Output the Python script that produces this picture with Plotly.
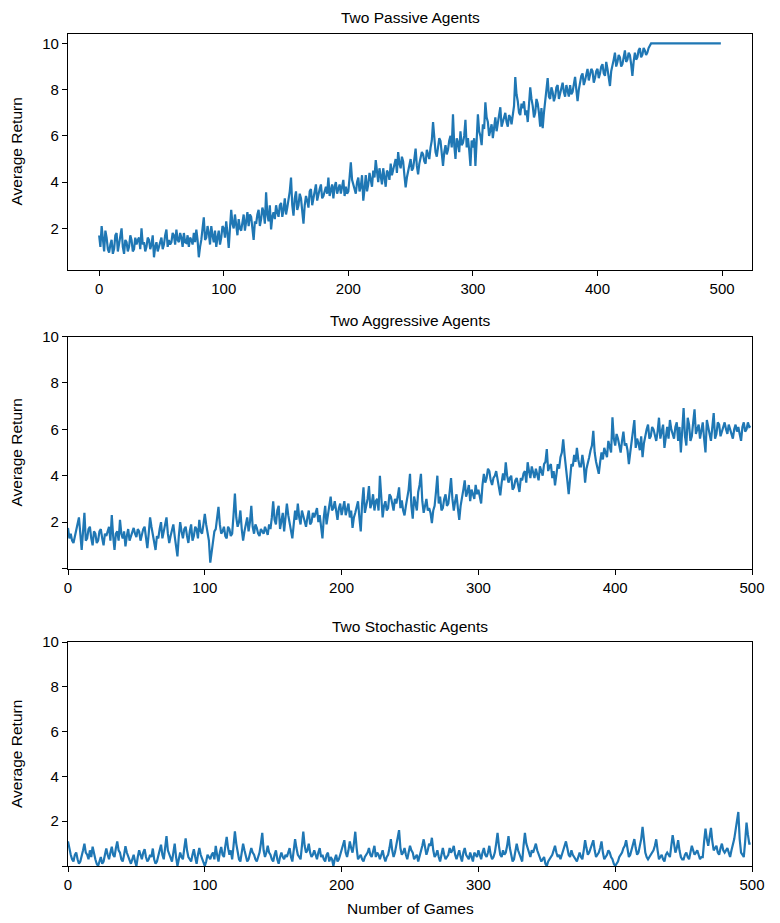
import plotly.graph_objects as go

# ---- data ----
# values at even games (0, 2, ..., 498)
passive_even = [
    1.7, 2.1, 1.0, 1.6, 0.95, 1.5, 1.1, 1.8, 1.3, 2.0,
    0.9, 1.4, 1.2, 1.5, 1.1, 1.3, 1.6, 2.0, 1.4, 1.2,
    1.5, 1.3, 0.75, 1.4, 1.2, 1.6, 1.3, 1.95, 1.5, 1.4,
    1.7, 1.95, 1.4, 1.6, 1.8, 1.37, 1.2, 1.5, 1.8, 1.95,
    0.75, 1.5, 2.48, 1.6, 1.8, 2.1, 1.4, 1.2, 1.9, 1.6,
    2.0, 2.3, 1.15, 2.8, 2.0, 2.2, 2.4, 1.9, 2.6, 2.3,
    2.1, 2.5, 1.5, 2.2, 2.8, 2.4, 2.7, 3.56, 2.3, 1.95,
    2.7, 3.0, 2.5, 3.1, 2.8, 2.6, 3.2, 4.2, 2.55, 3.6,
    3.0, 3.3, 2.2, 3.4, 2.9, 3.7, 3.3, 3.9, 3.5, 3.9,
    3.4, 3.8, 4.2, 3.6, 3.3, 4.0, 3.7, 3.5, 4.1, 3.8,
    3.6, 4.86, 3.9, 3.5, 4.2, 3.8, 3.2, 4.3, 3.9, 4.1,
    4.5, 4.95, 4.0, 4.3, 4.6, 3.8, 4.4, 4.8, 4.5, 5.0,
    5.3, 4.6, 4.9, 3.77, 4.5, 5.0, 4.6, 5.45, 4.34, 5.0,
    5.2, 4.8, 5.2, 5.5, 6.6, 5.3, 5.5, 5.78, 4.7, 5.6,
    5.4, 6.0, 6.93, 5.0, 5.7, 6.2, 5.7, 6.7, 5.9, 4.7,
    5.5, 4.7, 6.93, 6.0, 6.5, 7.45, 6.6, 6.2, 5.9, 6.8,
    6.5, 7.24, 6.6, 7.0, 6.4, 6.8, 7.0, 8.55, 7.5, 6.9,
    7.2, 6.9, 6.6, 8.1, 7.3, 7.0, 7.4, 6.4, 6.33, 7.6,
    8.5, 7.6, 7.9, 7.7, 8.2, 7.8, 8.3, 7.7, 8.0, 8.2,
    7.9, 8.55, 7.5, 8.3, 8.7, 8.4, 8.9, 8.6, 8.8, 8.5,
    8.9, 8.7, 9.1, 8.6, 8.9, 8.16, 9.0, 9.6, 9.2, 9.4,
    9.1, 9.7, 9.3, 9.5, 8.6, 9.6, 9.4, 9.8, 9.5, 9.7,
    9.6, 9.9, 10.0, 10.0, 10.0, 10.0, 10.0, 10.0, 10.0, 10.0,
    10.0, 10.0, 10.0, 10.0, 10.0, 10.0, 10.0, 10.0, 10.0, 10.0,
    10.0, 10.0, 10.0, 10.0, 10.0, 10.0, 10.0, 10.0, 10.0, 10.0,
]
# values at odd games (1, 3, ..., 499)
passive_odd = [
    1.2, 1.4, 1.9, 1.1, 1.3, 0.9, 1.7, 1.0, 1.6, 1.2,
    1.5, 1.0, 1.7, 1.0, 1.6, 1.5, 1.1, 1.3, 1.0, 1.6,
    1.1, 1.7, 1.2, 1.0, 1.5, 1.1, 1.7, 1.2, 1.3, 1.8,
    1.3, 1.5, 1.8, 1.2, 1.4, 1.7, 1.6, 1.3, 1.4, 1.5,
    1.2, 2.0, 1.5, 2.1, 1.3, 1.7, 1.9, 1.6, 1.3, 2.1,
    1.6, 1.8, 2.0, 2.2, 2.6, 1.7, 2.0, 2.4, 1.9, 2.7,
    2.6, 1.9, 2.3, 2.6, 2.1, 2.9, 2.2, 2.6, 3.0, 2.5,
    2.4, 2.7, 3.0, 2.5, 3.3, 2.9, 3.6, 3.0, 3.3, 2.8,
    3.5, 2.7, 3.0, 3.2, 3.6, 3.0, 3.5, 3.2, 3.7, 3.3,
    3.6, 3.5, 3.4, 3.9, 3.8, 3.5, 3.9, 3.8, 3.4, 3.5,
    4.2, 4.1, 3.6, 4.0, 3.6, 4.3, 3.7, 3.6, 4.4, 3.8,
    4.2, 4.4, 4.6, 3.9, 4.2, 4.5, 4.1, 4.3, 4.8, 4.4,
    4.8, 5.1, 4.3, 4.2, 4.8, 4.5, 5.0, 4.7, 4.8, 5.3,
    4.9, 5.4, 5.0, 5.8, 5.7, 5.1, 5.9, 5.2, 5.3, 5.2,
    5.8, 5.5, 5.6, 5.9, 5.3, 5.6, 6.0, 5.5, 5.4, 5.8,
    5.9, 5.8, 6.2, 5.6, 6.3, 6.8, 6.0, 6.5, 6.4, 6.2,
    6.9, 6.4, 6.8, 6.6, 6.9, 6.5, 7.3, 7.8, 7.0, 7.4,
    7.5, 7.1, 7.4, 7.6, 6.8, 7.6, 7.0, 7.2, 7.0, 7.9,
    7.7, 8.1, 7.5, 8.1, 7.6, 8.1, 7.9, 8.2, 7.7, 7.8,
    8.3, 8.0, 8.0, 8.6, 8.2, 8.7, 8.4, 8.9, 8.3, 8.8,
    8.5, 9.0, 8.7, 9.2, 8.6, 8.8, 9.3, 9.0, 9.5, 9.0,
    9.5, 9.2, 9.6, 9.1, 9.2, 9.3, 9.7, 9.4, 9.8, 9.5,
    9.8, 10.0, 10.0, 10.0, 10.0, 10.0, 10.0, 10.0, 10.0, 10.0,
    10.0, 10.0, 10.0, 10.0, 10.0, 10.0, 10.0, 10.0, 10.0, 10.0,
    10.0, 10.0, 10.0, 10.0, 10.0, 10.0, 10.0, 10.0, 10.0, 10.0,
]

aggressive_even = [
    1.75, 1.5, 1.1, 1.6, 2.2, 0.8, 2.4, 1.3, 1.8, 1.0,
    1.5, 1.2, 1.7, 1.0, 1.4, 1.8, 2.3, 0.8, 1.6, 2.1,
    1.3, 0.95, 1.7, 1.4, 1.75, 1.35, 1.6, 1.5, 1.8, 0.88,
    2.2, 1.5, 0.8, 1.3, 2.0, 1.6, 2.2, 1.1, 1.6, 1.4,
    0.52, 2.0, 1.3, 1.8, 1.1, 1.9, 1.4, 1.7, 2.1, 1.5,
    2.35, 1.6, 0.25, 1.2, 1.7, 2.66, 1.5, 1.8, 1.3, 1.7,
    1.5, 3.23, 1.8, 2.5, 1.2, 1.9, 1.6, 2.7, 1.5, 1.75,
    1.4, 1.6, 1.8, 1.45, 1.7, 2.9, 1.9, 2.7, 2.1, 1.6,
    2.8, 2.0, 1.3, 2.5, 2.8, 1.9, 2.3, 1.8, 2.5, 2.0,
    2.2, 2.6, 2.3, 1.3, 2.7, 2.3, 3.1, 2.6, 2.4, 2.6,
    2.3, 2.9, 2.5, 2.2, 1.75, 2.4, 2.9, 1.6, 3.5, 2.7,
    3.55, 2.8, 2.5, 3.0, 4.0, 2.2, 2.9, 2.6, 3.1, 2.5,
    2.8, 3.5, 2.94, 2.29, 3.0, 4.08, 2.15, 2.8, 3.3, 4.08,
    2.4, 3.0, 2.6, 1.96, 2.7, 4.0, 3.1, 2.6, 3.2, 2.8,
    3.9, 2.5, 3.2, 2.1, 3.0, 3.8, 3.3, 2.9, 3.2, 3.6,
    3.4, 2.8, 4.08, 3.9, 4.2, 3.6, 4.0, 3.8, 3.15, 4.1,
    4.58, 3.7, 4.0, 3.5, 3.9, 3.3, 3.8, 4.2, 4.58, 3.9,
    4.1, 4.3, 3.8, 4.2, 4.5, 5.15, 4.4, 3.9, 3.58, 4.5,
    4.8, 5.57, 4.2, 3.2, 4.5, 4.9, 5.2, 4.4, 4.9, 3.7,
    4.5, 5.1, 5.93, 4.6, 4.08, 5.0, 5.2, 4.8, 5.3, 6.52,
    5.3, 5.6, 5.0, 5.9, 5.4, 4.5, 5.5, 6.4, 5.6, 5.1,
    4.8, 5.8, 6.2, 5.7, 6.0, 5.5, 6.5, 5.9, 5.2, 6.1,
    6.4, 5.8, 6.1, 5.5, 5.0, 6.92, 5.3, 6.2, 5.7, 6.86,
    6.0, 5.6, 6.3, 5.0, 6.0, 5.5, 6.7, 5.8, 6.2, 5.9,
    6.3, 5.8, 6.0, 5.6, 6.2, 6.1, 5.5, 6.3, 6.0, 6.1,
]
aggressive_odd = [
    1.3, 1.2, 1.4, 1.9, 1.5, 1.6, 1.2, 1.7, 1.3, 1.6,
    1.1, 1.6, 1.3, 1.5, 1.6, 1.2, 1.4, 1.5, 1.2, 1.5,
    1.6, 1.4, 1.2, 1.6, 1.5, 1.7, 1.2, 1.7, 1.3, 1.5,
    1.8, 1.1, 1.4, 1.7, 1.3, 1.9, 1.5, 1.4, 1.9, 1.0,
    1.4, 1.6, 1.7, 1.4, 1.6, 1.2, 1.8, 1.3, 1.6, 1.9,
    1.9, 1.2, 0.8, 1.6, 2.1, 1.9, 1.6, 1.4, 1.8, 1.4,
    2.3, 2.2, 2.0, 1.7, 1.6, 2.2, 2.0, 1.8, 1.9, 1.5,
    1.7, 1.5, 1.6, 1.9, 2.2, 2.1, 2.5, 1.7, 2.4, 2.2,
    2.3, 1.6, 1.9, 2.1, 2.2, 2.5, 2.0, 2.2, 1.9, 2.4,
    2.4, 2.0, 1.8, 2.2, 1.9, 2.8, 2.5, 2.9, 2.1, 2.8,
    2.6, 2.3, 2.8, 2.5, 2.2, 2.7, 2.2, 2.8, 2.4, 3.0,
    2.6, 3.2, 2.9, 2.5, 3.1, 2.7, 2.5, 3.2, 2.8, 3.0,
    3.1, 2.6, 2.5, 2.7, 3.4, 2.7, 3.1, 2.5, 3.6, 2.9,
    2.8, 2.5, 2.4, 2.5, 3.3, 2.8, 2.5, 3.0, 2.7, 3.3,
    3.0, 2.9, 2.6, 2.7, 3.4, 3.1, 3.6, 3.4, 3.0, 3.2,
    3.1, 3.6, 3.7, 4.3, 3.8, 3.9, 4.2, 3.5, 3.7, 3.8,
    4.0, 3.9, 3.4, 3.8, 3.6, 3.9, 4.1, 3.7, 4.2, 4.4,
    3.9, 4.1, 4.4, 4.0, 4.6, 4.2, 4.5, 4.2, 4.1, 4.3,
    5.0, 4.9, 3.8, 4.1, 4.4, 4.6, 4.7, 4.4, 4.5, 4.3,
    4.8, 5.3, 5.0, 4.3, 4.6, 4.7, 5.0, 5.5, 5.0, 5.6,
    5.8, 5.2, 5.5, 5.3, 5.1, 5.0, 5.8, 5.2, 5.4, 5.7,
    5.4, 6.0, 5.6, 6.1, 5.8, 5.9, 5.6, 6.2, 5.8, 5.6,
    6.0, 5.6, 6.3, 6.1, 6.2, 5.7, 6.5, 5.5, 6.3, 5.8,
    6.2, 5.9, 5.6, 6.4, 5.8, 6.1, 5.6, 6.3, 5.7, 6.1,
    6.0, 6.2, 5.7, 6.0, 5.9, 5.8, 6.1, 5.9, 6.3, 6.14,
]

stochastic_even = [
    1.1, 0.5, 0.2, 0.6, 0.1, 0.4, 1.0, 0.5, 0.7, 0.86,
    0.3, 0.0, 0.4, 0.2, 0.78, 0.3, 0.86, 0.4, 1.1, 0.6,
    0.2, 0.88, 0.4, 0.1, 0.5, 0.0, 0.7, 0.3, 0.75, 0.2,
    0.5, 0.78, 0.1, 0.4, 0.95, 0.3, 1.33, 0.5, 0.2, 1.0,
    0.0, 0.6, 0.3, 1.23, 0.4, 0.2, 0.75, 0.1, 0.8, 0.3,
    0.0, 0.5, 0.3, 0.6, 0.9, 0.2, 0.85, 0.4, 1.3, 0.5,
    0.3, 1.55, 0.6, 0.2, 1.0, 0.4, 0.3, 0.8, 0.5, 0.2,
    0.6, 1.48, 0.4, 0.9, 0.5, 0.2, 0.7, 0.1, 0.6, 0.3,
    0.4, 0.8, 0.2, 1.2, 0.5, 0.3, 1.53, 0.6, 1.0, 0.4,
    0.7, 0.3, 0.8, 0.5, 0.2, 0.6, 0.4, 0.0, 0.5, 0.3,
    0.7, 1.15, 0.4, 1.1, 0.6, 1.53, 0.3, 0.5, 0.2, 0.5,
    0.8, 0.4, 0.9, 0.6, 0.3, 0.7, 0.2, 0.5, 1.2, 0.4,
    0.9, 1.6, 0.5, 0.8, 0.3, 0.9, 0.6, 0.4, 0.2, 0.7,
    1.19, 0.5, 1.0, 1.26, 0.4, 0.7, 0.2, 0.8, 0.3, 0.5,
    0.6, 0.9, 0.3, 0.7, 0.2, 0.8, 0.4, 0.6, 0.2, 0.5,
    0.7, 0.3, 0.8, 0.4, 0.9, 0.3, 0.6, 1.48, 0.5, 0.7,
    0.6, 1.33, 0.4, 0.3, 1.0, 0.5, 0.2, 1.48, 0.8, 0.4,
    0.6, 1.0, 0.5, 0.2, 0.4, 0.0, 0.3, 0.5, 0.9, 0.4,
    0.3, 0.7, 1.1, 0.5, 0.7, 0.4, 0.2, 0.6, 0.3, 1.15,
    0.5, 0.8, 1.15, 0.4, 0.6, 1.1, 0.3, 0.5, 0.6, 0.3,
    0.0, 0.2, 0.5, 0.8, 1.15, 0.4, 0.7, 1.2, 0.5, 0.9,
    1.75, 0.6, 0.3, 0.5, 0.7, 1.19, 0.3, 0.5, 0.2, 0.6,
    0.4, 1.38, 0.6, 1.15, 0.4, 0.3, 0.6, 0.3, 0.9, 0.5,
    0.7, 0.3, 0.4, 1.67, 0.9, 1.7, 0.7, 0.9, 0.5, 1.0,
    0.6, 0.8, 0.4, 0.9, 1.6, 2.41, 0.6, 0.4, 1.94, 1.0,
]
stochastic_odd = [
    0.7, 0.3, 0.5, 0.3, 0.2, 0.7, 0.6, 0.3, 0.4, 0.5,
    0.1, 0.2, 0.1, 0.5, 0.5, 0.6, 0.5, 0.8, 0.7, 0.3,
    0.5, 0.6, 0.2, 0.3, 0.2, 0.4, 0.5, 0.6, 0.4, 0.3,
    0.4, 0.3, 0.2, 0.7, 0.5, 0.8, 0.7, 0.3, 0.6, 0.4,
    0.3, 0.4, 0.8, 0.7, 0.3, 0.5, 0.4, 0.5, 0.5, 0.1,
    0.2, 0.4, 0.5, 0.3, 0.5, 0.6, 0.5, 0.9, 0.8, 0.7,
    0.9, 1.0, 0.3, 0.6, 0.7, 0.2, 0.5, 0.6, 0.3, 0.4,
    1.0, 0.7, 0.6, 0.6, 0.3, 0.5, 0.3, 0.4, 0.4, 0.5,
    0.6, 0.4, 0.7, 0.8, 0.4, 0.9, 0.9, 0.7, 0.6, 0.5,
    0.5, 0.6, 0.4, 0.3, 0.5, 0.2, 0.3, 0.3, 0.2, 0.5,
    0.9, 0.6, 0.7, 0.8, 1.0, 0.8, 0.4, 0.3, 0.4, 0.6,
    0.5, 0.7, 0.4, 0.5, 0.5, 0.4, 0.4, 0.8, 0.7, 0.6,
    1.2, 0.8, 0.6, 0.5, 0.6, 0.7, 0.3, 0.5, 0.4, 0.9,
    0.8, 0.7, 0.9, 0.7, 0.5, 0.4, 0.5, 0.5, 0.4, 0.8,
    0.7, 0.5, 0.5, 0.4, 0.6, 0.5, 0.3, 0.4, 0.6, 0.4,
    0.5, 0.6, 0.5, 0.6, 0.5, 0.4, 1.0, 0.9, 0.4, 0.5,
    0.9, 0.8, 0.2, 0.7, 0.7, 0.3, 0.9, 1.0, 0.5, 0.7,
    0.8, 0.7, 0.3, 0.3, 0.1, 0.2, 0.4, 0.7, 0.6, 0.5,
    0.5, 0.9, 0.8, 0.4, 0.5, 0.3, 0.4, 0.4, 0.7, 0.8,
    0.6, 1.0, 0.7, 0.5, 0.8, 0.6, 0.4, 0.7, 0.4, 0.1,
    0.1, 0.4, 0.6, 0.9, 0.7, 0.5, 0.9, 0.8, 0.6, 1.2,
    1.0, 0.4, 0.4, 0.6, 0.9, 0.7, 0.4, 0.3, 0.5, 0.5,
    0.9, 1.0, 0.8, 0.7, 0.3, 0.5, 0.4, 0.6, 0.7, 0.6,
    0.5, 0.4, 1.1, 1.2, 1.3, 1.1, 0.8, 0.6, 0.8, 0.7,
    0.7, 0.6, 0.7, 1.2, 2.0, 1.2, 0.5, 1.1, 1.4, 1.0,
]

titles = ["Two Passive Agents", "Two Aggressive Agents", "Two Stochastic Agents"]
x_ticks = [0, 100, 200, 300, 400, 500]
y_ticks_top = [2, 4, 6, 8, 10]
y_ticks = [0, 2, 4, 6, 8, 10]
y_ticklabels = ["", "2", "4", "6", "8", "10"]


def interleave(even, odd):
    out = []
    for a, b in zip(even, odd):
        out.append(a)
        out.append(b)
    return out


games = list(range(len(passive_even) + len(passive_odd)))
series = [
    interleave(passive_even, passive_odd),
    interleave(aggressive_even, aggressive_odd),
    interleave(stochastic_even, stochastic_odd),
]

# ---- figure ----
OFF = 8                      # page body margin of the html page
W, H = 780 - OFF, 923 - OFF
FONT = "Liberation Sans, Arial, Helvetica, sans-serif"
COLOR = "#1f77b4"
TICK_SIZE = 15
TEXT_SIZE = 15.5

# plot-area pixel boxes in window coordinates (top, bottom)
boxes = [(33.5, 269.5), (336.5, 568.5), (642.0, 866.0)]
x_left, x_right = 68 - OFF, 752 - OFF
pw = x_right - x_left

fig = go.Figure()
for i, ys in enumerate(series):
    suffix = "" if i == 0 else str(i + 1)
    fig.add_trace(go.Scatter(
        x=games, y=ys, mode="lines",
        line=dict(color=COLOR, width=2.2),
        xaxis="x" + suffix, yaxis="y" + suffix,
        showlegend=False, hoverinfo="skip",
    ))

axis_common = dict(
    showline=True, linecolor="black", linewidth=1.2, mirror=True,
    ticks="outside", ticklen=5, tickwidth=1.2, tickcolor="black",
    showgrid=False, zeroline=False,
    tickfont=dict(family=FONT, size=TICK_SIZE, color="black"),
)

layout = dict(
    width=W, height=H,
    margin=dict(l=x_left, r=W - x_right, t=0, b=0, autoexpand=False),
    paper_bgcolor="white", plot_bgcolor="white",
    font=dict(family=FONT, size=TEXT_SIZE, color="black"),
    annotations=[],
)


def py(p):
    """window pixel y -> paper fraction"""
    return 1 - (p - OFF) / H


def px(p):
    """window pixel x -> paper fraction"""
    return (p - OFF - x_left) / pw


for i in range(3):
    top, bot = boxes[i]
    dom = [py(bot), py(top)]
    xk = "xaxis" if i == 0 else "xaxis%d" % (i + 1)
    yk = "yaxis" if i == 0 else "yaxis%d" % (i + 1)
    yname = "y" if i == 0 else "y%d" % (i + 1)
    xname = "x" if i == 0 else "x%d" % (i + 1)
    if i == 0:
        xr = [-25, 524]
        yr = [0.22, 10.43]
        ytv, ytt = y_ticks_top, [str(v) for v in y_ticks_top]
    else:
        xr = [0, 500]
        yr = [0, 10]
        ytv, ytt = y_ticks, y_ticklabels
    layout[xk] = dict(axis_common, domain=[0, 1], anchor=yname, range=xr,
                      tickmode="array", tickvals=x_ticks,
                      ticktext=[str(v) for v in x_ticks])
    layout[yk] = dict(axis_common, domain=dom, anchor=xname, range=yr,
                      tickmode="array", tickvals=ytv, ticktext=ytt)
    layout["annotations"].append(dict(
        text=titles[i], xref="paper", yref="paper", x=0.5,
        y=py(top - 16), yanchor="middle", xanchor="center", showarrow=False,
        font=dict(family=FONT, size=TEXT_SIZE, color="black")))
    layout["annotations"].append(dict(
        text="Average Return", xref="paper", yref="paper",
        x=px(16), y=py((top + bot) / 2), xanchor="center", yanchor="middle",
        textangle=-90, showarrow=False,
        font=dict(family=FONT, size=TEXT_SIZE, color="black")))

layout["annotations"].append(dict(
    text="Number of Games", xref="paper", yref="paper",
    x=0.5, y=py(908), xanchor="center", yanchor="middle", showarrow=False,
    font=dict(family=FONT, size=TEXT_SIZE, color="black")))

fig.update_layout(**layout)
fig.write_html("out.html")
